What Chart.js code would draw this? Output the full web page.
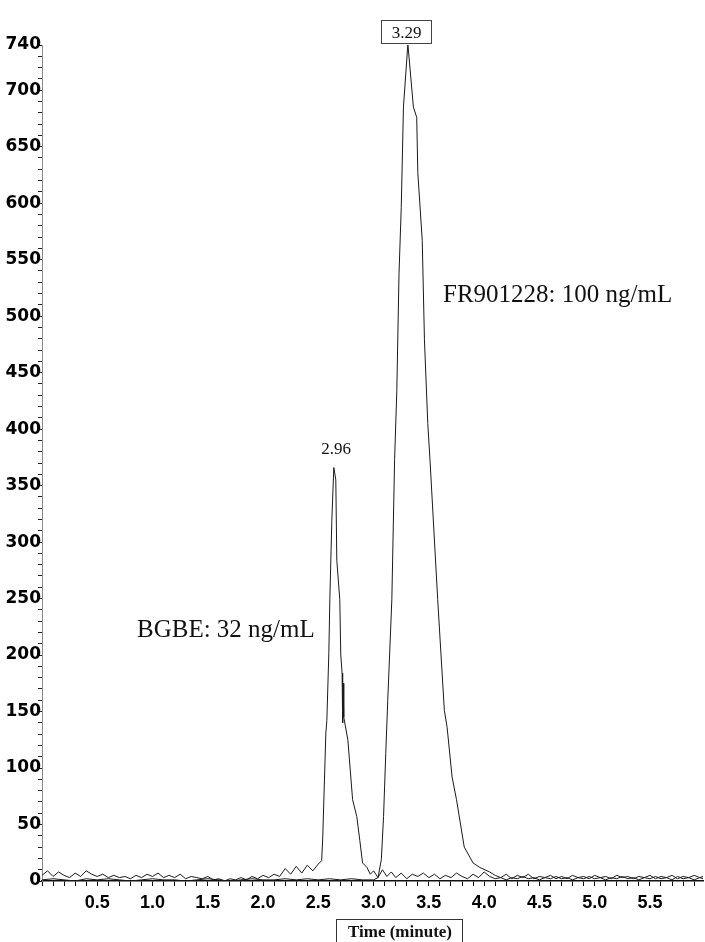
<!DOCTYPE html>
<html>
<head>
<meta charset="utf-8">
<script src="https://cdn.jsdelivr.net/npm/chart.js@4"></script>
<style>
html,body{margin:0;padding:0;background:#fff;}
#wrap{position:relative;width:705px;height:942px;}
</style>
</head>
<body>
<div id="wrap"><canvas id="c" width="705" height="942"></canvas></div>
<script>
// ---- data (time in minutes, signal intensity) ----
const bgbeTime = [0.00,0.05,0.10,0.15,0.20,0.25,0.30,0.35,0.40,0.45,0.50,0.55,0.60,0.65,0.70,0.75,0.80,0.85,0.90,0.95,
  1.00,1.05,1.10,1.15,1.20,1.25,1.30,1.35,1.40,1.45,1.50,1.55,1.60,1.65,1.70,1.75,1.80,1.85,1.90,1.95,
  2.00,2.05,2.10,2.15,2.20,2.25,2.30,2.35,2.40,2.45,2.50,2.53,2.54,2.568,2.577,2.595,2.604,2.622,2.64,2.658,
  2.667,2.694,2.703,2.715,2.72,2.725,2.73,2.767,2.81,2.848,2.875,2.90,2.94,2.97,3.00,3.04,3.08,3.12,3.16,3.20,
  3.25,3.30,3.35,3.40,3.45,3.50,3.55,3.60,3.65,3.70,3.75,3.80,3.85,3.90,3.95,4.00,4.05,4.10,4.15,4.20,
  4.25,4.30,4.35,4.40,4.45,4.50,4.55,4.60,4.65,4.70,4.75,4.80,4.85,4.90,4.95,5.00,5.05,5.10,5.15,5.20,
  5.25,5.30,5.35,5.40,5.45,5.50,5.55,5.60,5.65,5.70,5.75,5.80,5.85,5.90,5.95,5.98];
const bgbeSignal = [5,9,4,8,5,3,7,4,9,6,4,6,3,5,3,4,2,5,3,6,
  4,7,3,5,3,6,2,4,3,2,4,1,2,0,2,1,3,1,4,2,
  5,3,6,4,11,6,13,7,14,9,15,18,39,131,142,202,249,319,366,355,
  284,249,200,184,140,175,145,125,72,57,36,16,12,6,9,3,10,4,8,3,
  7,2,6,4,7,3,6,2,5,3,7,4,2,6,3,8,4,2,3,1,
  3,2,4,2,3,1,3,2,4,2,3,1,3,2,4,2,3,1,3,2,
  4,2,3,1,3,2,4,2,3,1,4,2,3,1,3,2];

const frTime = [0.0,0.1,0.2,0.3,0.4,0.5,0.6,0.7,0.8,0.9,1.0,1.1,1.2,1.3,1.4,1.5,1.6,1.7,1.8,1.9,
  2.0,2.1,2.2,2.3,2.4,2.5,2.6,2.7,2.8,2.9,3.0,3.04,3.07,3.09,3.11,3.128,3.165,3.19,3.21,3.23,
  3.25,3.27,3.31,3.36,3.39,3.40,3.44,3.46,3.49,3.51,3.58,3.64,3.665,3.71,3.75,3.82,3.90,3.96,4.05,4.10,
  4.15,4.20,4.25,4.30,4.35,4.40,4.45,4.50,4.55,4.60,4.65,4.70,4.75,4.80,4.85,4.90,4.95,5.00,5.05,5.10,
  5.15,5.20,5.25,5.30,5.35,5.40,5.45,5.50,5.55,5.60,5.65,5.70,5.75,5.80,5.85,5.90,5.95,5.98];
const frSignal = [1,2,1,0,2,1,2,1,0,1,2,1,1,0,1,2,1,0,1,2,
  1,1,2,1,2,1,2,1,2,1,1,3,19,57,113,160,249,373,434,538,
  596,685,741,685,676,627,567,479,405,373,249,151,136,92,72,30,16,12,8,5,
  3,6,2,5,3,6,2,4,3,5,2,4,2,5,3,4,2,5,3,4,
  2,5,3,4,2,4,3,5,2,4,3,5,2,4,3,5,3,4];

const xTickLabels = ["0.5","1.0","1.5","2.0","2.5","3.0","3.5","4.0","4.5","5.0","5.5"];
const yTickLabels = ["0","50","100","150","200","250","300","350","400","450","500","550","600","650","700","740"];

const peakLabels = ["2.96","3.29"];
const seriesNames = ["BGBE: 32 ng/mL","FR901228: 100 ng/mL"];
const axisTitle = "Time (minute)";

const toPts = (t, v) => t.map((x, i) => ({x: x, y: v[i]}));

const annot = {
  id: 'annot',
  afterDraw(chart) {
    const ctx = chart.ctx;
    ctx.save();
    ctx.fillStyle = '#111';
    ctx.strokeStyle = '#444';
    ctx.lineWidth = 1;
    ctx.textAlign = 'center';
    ctx.textBaseline = 'alphabetic';
    // peak label boxes/text
    ctx.font = '17px "Liberation Serif", "Times New Roman", serif';
    ctx.strokeRect(381.5, 20.5, 50, 23);
    ctx.fillText(peakLabels[1], 406.5, 38);
    ctx.fillText(peakLabels[0], 336, 454);
    // series annotations
    ctx.textAlign = 'left';
    ctx.font = '25px "Liberation Serif", "Times New Roman", serif';
    ctx.fillText(seriesNames[1], 443, 302);
    ctx.fillText(seriesNames[0], 137, 637);
    // axis title box
    ctx.strokeStyle = '#333';
    ctx.strokeRect(336.5, 919.5, 126, 30);
    ctx.textAlign = 'center';
    ctx.font = 'bold 17px "Liberation Serif", "Times New Roman", serif';
    ctx.fillText(axisTitle, 400, 937);
    ctx.restore();
  }
};

new Chart(document.getElementById('c'), {
  type: 'line',
  data: {
    datasets: [
      { label: seriesNames[0], data: toPts(bgbeTime, bgbeSignal), borderColor: '#1a1a1a', borderWidth: 1, pointRadius: 0, tension: 0, fill: false },
      { label: seriesNames[1], data: toPts(frTime, frSignal), borderColor: '#1a1a1a', borderWidth: 1, pointRadius: 0, tension: 0, fill: false }
    ]
  },
  options: {
    responsive: false,
    animation: false,
    layout: { padding: { top: 45, right: 2, left: 0, bottom: 0 } },
    plugins: { legend: { display: false }, tooltip: { enabled: false } },
    scales: {
      x: {
        type: 'linear', min: 0, max: 5.98,
        afterFit(s) { s.height = 61; },
        border: { display: true, color: '#111', width: 1.5 },
        grid: { drawOnChartArea: false, drawTicks: true, tickLength: 5, color: '#111' },
        ticks: {
          stepSize: 0.1, autoSkip: false, maxRotation: 0, includeBounds: false, padding: 6,
          color: '#000',
          font: { family: '"Liberation Sans Narrow", "Liberation Sans", sans-serif', size: 18, weight: 'bold' },
          callback(v) {
            const k = Math.round(v * 10);
            if (k % 5 !== 0 || k === 0) return '';
            const lab = (k / 10).toFixed(1);
            return xTickLabels.includes(lab) ? lab : '';
          }
        }
      },
      y: {
        type: 'linear', min: 0, max: 740,
        afterFit(s) { s.width = 42; },
        border: { display: true, color: '#8a8a8a', width: 1 },
        grid: { drawOnChartArea: false, drawTicks: true, tickLength: 4, color: '#222' },
        ticks: {
          stepSize: 10, autoSkip: false, padding: -3, color: '#000',
          font: { family: '"DejaVu Sans", sans-serif', size: 17, weight: 'bold' },
          callback(v) {
            const s = String(Math.round(v));
            return yTickLabels.includes(s) && (Math.round(v) % 50 === 0 || Math.round(v) === 740) ? s : '';
          }
        }
      }
    }
  },
  plugins: [annot]
});
</script>
</body>
</html>
